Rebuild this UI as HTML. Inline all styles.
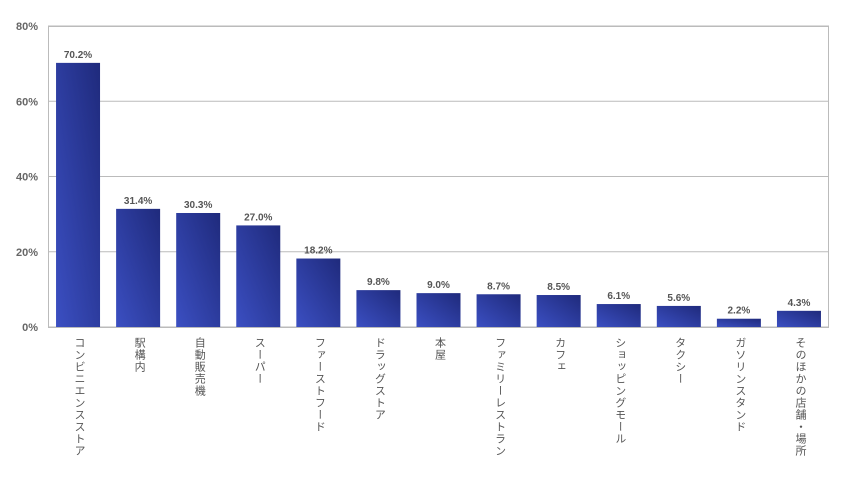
<!DOCTYPE html>
<html><head><meta charset="utf-8"><style>
html,body{margin:0;padding:0;background:#fff;}
svg{display:block;font-family:"Liberation Sans","Noto Sans CJK JP",sans-serif;}
</style></head><body>
<svg id="chart" width="844" height="493" viewBox="0 0 844 493">
<defs>
<linearGradient id="bg" x1="0" y1="1" x2="1" y2="0">
<stop offset="0" stop-color="#3b4fc2"/><stop offset="1" stop-color="#1f2a7c"/>
</linearGradient>
</defs>
<g id="grid"></g>
<g id="bars"></g>
<g id="xl"></g>
</svg>
<script>
const categories=["コンビニエンスストア","駅構内","自動販売機","スーパー","ファーストフード","ドラッグストア","本屋","ファミリーレストラン","カフェ","ショッピングモール","タクシー","ガソリンスタンド","そのほかの店舗・場所"];
const values=[70.2,31.4,30.3,27.0,18.2,9.8,9.0,8.7,8.5,6.1,5.6,2.2,4.3];
const ticks=[0,20,40,60,80];
const NS="http://www.w3.org/2000/svg";
const L=48,R=829,T=26,B=327,maxV=80;
const y=v=>B-(v/maxV)*(B-T);
const slot=(R-L)/categories.length;
const x=i=>L+slot*i+slot/2;
function mk(tag,attrs,parent,txt){const e=document.createElementNS(NS,tag);for(const k in attrs)e.setAttribute(k,attrs[k]);if(txt!==undefined)e.textContent=txt;parent.appendChild(e);return e;}
const grid=document.getElementById('grid'),bars=document.getElementById('bars'),xl=document.getElementById('xl');
ticks.forEach(t=>{
 const ln=mk('line',{x1:L,x2:R,y1:y(t),y2:y(t),stroke:'#bbb','stroke-width':1},grid);
 
 
 const tx=mk('text',{x:L-10,y:y(t)+4,'text-anchor':'end','font-size':11,'font-weight':'bold',fill:'#666'},grid,t+'%');
 
 
});
const fr=mk('rect',{x:L+0.5,y:T+0.5,width:R-L-1,height:B-T,fill:'none',stroke:'#bbb'},grid);


values.forEach((v,i)=>{
 const w=44,cx=x(i);
 const r=mk('rect',{x:cx-w/2,y:y(v),width:w,height:B-y(v),fill:'url(#bg)'},bars);
 
 
 const t=mk('text',{x:cx,y:y(v)-5,'text-anchor':'middle','font-size':10,'font-weight':'bold',fill:'#555'},bars,v.toFixed(1)+'%');
 
 
});
categories.forEach((c,i)=>{
 const g=mk('text',{x:x(i)+1,y:B+10,'font-size':11,fill:'#555','writing-mode':'vertical-rl','letter-spacing':1,'dominant-baseline':'central'},xl,c);
 g.setAttribute('style','writing-mode:vertical-rl;text-orientation:upright;');
 
 
});
</script>
</body></html>
